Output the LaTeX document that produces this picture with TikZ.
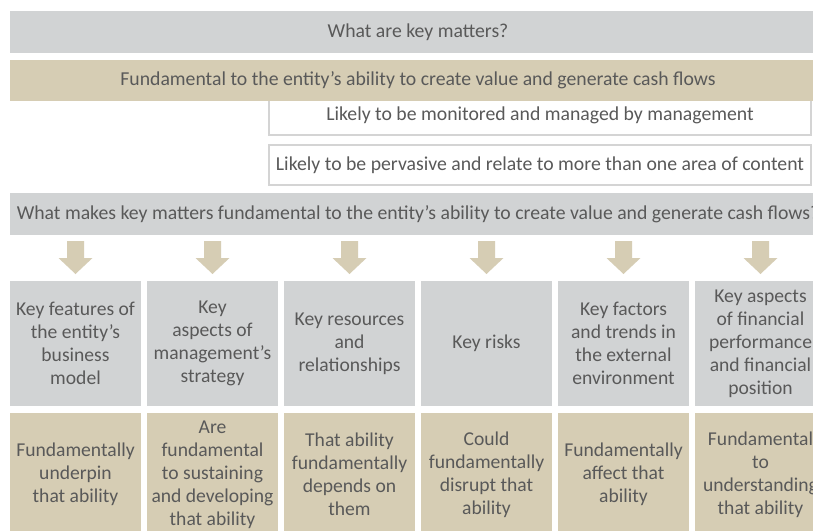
\documentclass[tikz,border=0pt]{standalone}
\usepackage{fontspec}
\setmainfont{Carlito}
\definecolor{kgray}{HTML}{D1D3D4}
\definecolor{ktan}{HTML}{D6CDB4}
\definecolor{ktext}{HTML}{595959}
\definecolor{kborder}{HTML}{D4D4D4}
\tikzset{
  base/.style={inner sep=0pt, outer sep=0pt, text=ktext, align=center,
    font=\fontsize{14.7}{17.25}\selectfont},
  barfont/.style={font=\fontsize{14.8}{17.5}\selectfont},
  graybar/.style={base, barfont, fill=kgray, minimum width=612pt, minimum height=31.5pt},
  tanbar/.style={base, barfont, fill=ktan, minimum width=612pt, minimum height=30.75pt},
  whitebox/.style={base, barfont, fill=white, draw=kborder, line width=1.5pt,
    minimum width=406.5pt},
  graycol/.style={base, fill=kgray, minimum width=98.25pt, minimum height=93.75pt},
  tancol/.style={base, fill=ktan, minimum width=98.25pt, minimum height=92.25pt},
  downarrowfill/.style={fill=ktan, draw=none}
}
\begin{document}
\begin{tikzpicture}[x=0.75pt,y=-0.75pt]
\useasboundingbox (0,0) rectangle (813,531);
\clip (0,0) rectangle (813,531);
\fill[white] (0,0) rectangle (813,531);

\node[graybar] (q1) at (418,32) {What are key matters?};
\node[whitebox, minimum height=29.25pt] (w1) at (540,115.5) {Likely to be monitored and managed by management};
\node[tanbar] (f1) at (418,80.5) {Fundamental to the entity’s ability to create value and generate cash flows};
\node[whitebox, minimum height=30pt] (w2) at (540,165) {Likely to be pervasive and relate to more than one area of content};
\node[graybar] (q2) at (418,214) {What makes key matters fundamental to the entity’s ability to create value and generate cash flows?};

\foreach \i/\top/\bot in {
  0/{Key features of\\the entity’s\\business\\model}/{Fundamentally\\underpin\\that ability},
  1/{Key\\aspects of\\management’s\\strategy}/{Are\\fundamental\\to sustaining\\and developing\\that ability},
  2/{Key resources\\and\\relationships}/{That ability\\fundamentally\\depends on\\them},
  3/{Key risks}/{Could\\fundamentally\\disrupt that\\ability},
  4/{Key factors\\and trends in\\the external\\environment}/{Fundamentally\\affect that\\ability},
  5/{Key aspects\\of financial\\performance\\and financial\\position}/{Fundamental\\to\\understanding\\that ability}}{
  \pgfmathsetmacro{\cx}{75.5+137*\i}
  \node[graycol] (g\i) at (\cx,343.5) {\top};
  \node[tancol] (t\i) at (\cx,474.5) {\bot};
  \fill[downarrowfill] (\cx-8.5,241) -- (\cx+8.5,241) -- (\cx+8.5,258) -- (\cx+17,258)
    -- (\cx,274) -- (\cx-17,258) -- (\cx-8.5,258) -- cycle;
}
\end{tikzpicture}
\end{document}
